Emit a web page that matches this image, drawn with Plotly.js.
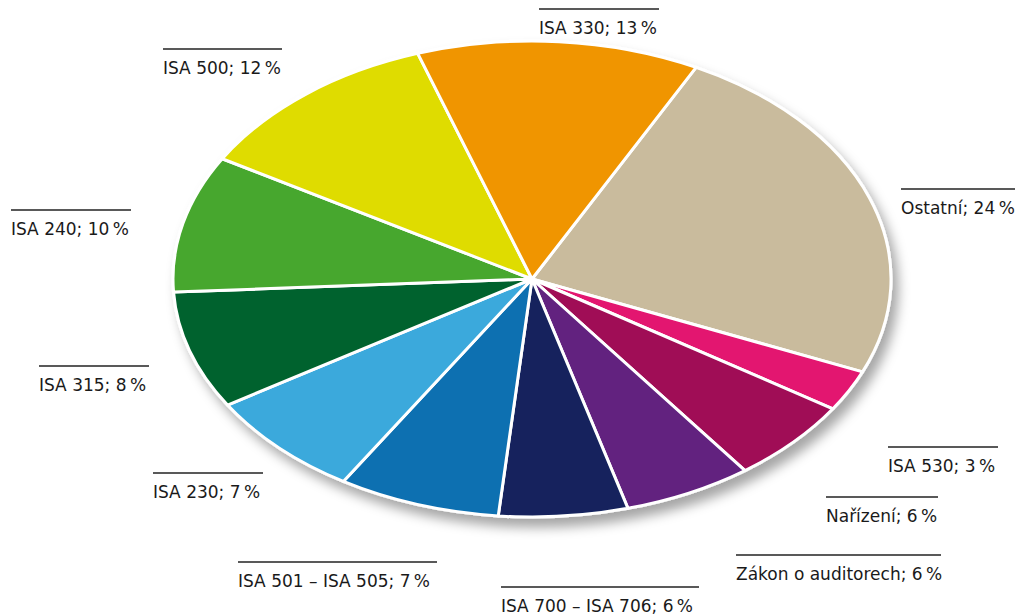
<!DOCTYPE html>
<html>
<head>
<meta charset="utf-8">
<script src="https://cdn.plot.ly/plotly-3.0.1.min.js"></script>
<style>
  html, body { margin: 0; padding: 0; background: #ffffff; }
  #chart { width: 1018px; height: 615px; }
</style>
</head>
<body>
<div id="chart"></div>
<script>
// Categories in drawing order (clockwise, starting at "Ostatní")
const categories = ["Ostatní", "ISA 530", "Nařízení", "Zákon o auditorech", "ISA 700 – ISA 706",
  "ISA 501 – ISA 505", "ISA 230", "ISA 315", "ISA 240", "ISA 500", "ISA 330"];
// Shares (%)
const shares = [23.8, 2.8, 5.7, 5.8, 5.8, 7.3, 7.3, 8.0, 9.3, 11.4, 12.7];
// Percent labels as printed in the chart
const percentLabels = ["24", "3", "6", "6", "6", "7", "7", "8", "10", "12", "13"];
const colors = ["#C9BB9D", "#E3146F", "#A00C57", "#62217F", "#13245D",
  "#0E70B1", "#3BA9DC", "#00622D", "#46A72E", "#DFDC00", "#F09500"];

const W = 1018, H = 615;
const cx = 532, cy = 279, rx = 359, ry = 238;

// label layout (pixel positions of overline start/end and its y)
const labelPos = {
  "Ostatní": [901, 1015, 189],
  "ISA 530": [888, 998, 447],
  "Nařízení": [826, 938, 497],
  "Zákon o auditorech": [736, 941, 555],
  "ISA 700 – ISA 706": [501, 699, 587],
  "ISA 501 – ISA 505": [238, 437, 562],
  "ISA 230": [153, 263, 473],
  "ISA 315": [39, 149, 366],
  "ISA 240": [11, 131, 210],
  "ISA 500": [163, 282, 49],
  "ISA 330": [539, 659, 9]
};

const px = x => x / W;
const py = y => 1 - y / H;

const annotations = [];
const shapes = [];
categories.forEach((c, i) => {
  const p = labelPos[c];
  shapes.push({
    type: "line", xref: "paper", yref: "paper",
    x0: px(p[0]), x1: px(p[1]), y0: py(p[2]), y1: py(p[2]),
    line: { color: "#222222", width: 1.3 }
  });
  annotations.push({
    xref: "paper", yref: "paper", x: px(p[0] - 2), y: py(p[2] + 19),
    xanchor: "left", yanchor: "middle", showarrow: false,
    text: c + "; " + percentLabels[i] + "\u2009%",
    font: { family: "Verdana, DejaVu Sans, sans-serif", size: 17, color: "#1a1a1a" }
  });
});

const data = [{
  type: "pie",
  labels: categories,
  values: shares,
  sort: false,
  direction: "clockwise",
  rotation: 27.2,
  textinfo: "none",
  hoverinfo: "label+percent",
  marker: { colors: colors, line: { color: "#ffffff", width: 3 } },
  domain: { x: [px(cx - ry), px(cx + ry)], y: [py(cy + ry), py(cy - ry)] },
  showlegend: false
}];

const layout = {
  width: W, height: H,
  margin: { l: 0, r: 0, t: 0, b: 0 },
  paper_bgcolor: "#ffffff",
  plot_bgcolor: "#ffffff",
  showlegend: false,
  annotations: annotations,
  shapes: shapes
};

Plotly.newPlot("chart", data, layout, { staticPlot: true, displayModeBar: false }).then(gd => {
  const svg = gd.querySelector("svg.main-svg");
  const ns = "http://www.w3.org/2000/svg";
  let defs = svg.querySelector("defs");
  if (!defs) { defs = document.createElementNS(ns, "defs"); svg.insertBefore(defs, svg.firstChild); }
  const filt = document.createElementNS(ns, "filter");
  filt.setAttribute("id", "pieShadow");
  filt.setAttribute("x", "-10%"); filt.setAttribute("y", "-10%");
  filt.setAttribute("width", "125%"); filt.setAttribute("height", "130%");
  const ds = document.createElementNS(ns, "feDropShadow");
  ds.setAttribute("dx", "6"); ds.setAttribute("dy", "9");
  ds.setAttribute("stdDeviation", "6");
  ds.setAttribute("flood-color", "#000000");
  ds.setAttribute("flood-opacity", "0.35");
  filt.appendChild(ds);
  defs.appendChild(filt);

  const layer = gd.querySelector(".pielayer");
  const sx = rx / ry;
  layer.querySelectorAll("g.trace").forEach(g => {
    g.setAttribute("transform", `translate(${cx},${cy}) scale(${sx},1) translate(${-cx},${-cy})`);
  });
  layer.querySelectorAll("path.surface").forEach(p => {
    p.setAttribute("vector-effect", "non-scaling-stroke");
    p.style.vectorEffect = "non-scaling-stroke";
  });
  layer.setAttribute("filter", "url(#pieShadow)");
});
</script>
</body>
</html>
